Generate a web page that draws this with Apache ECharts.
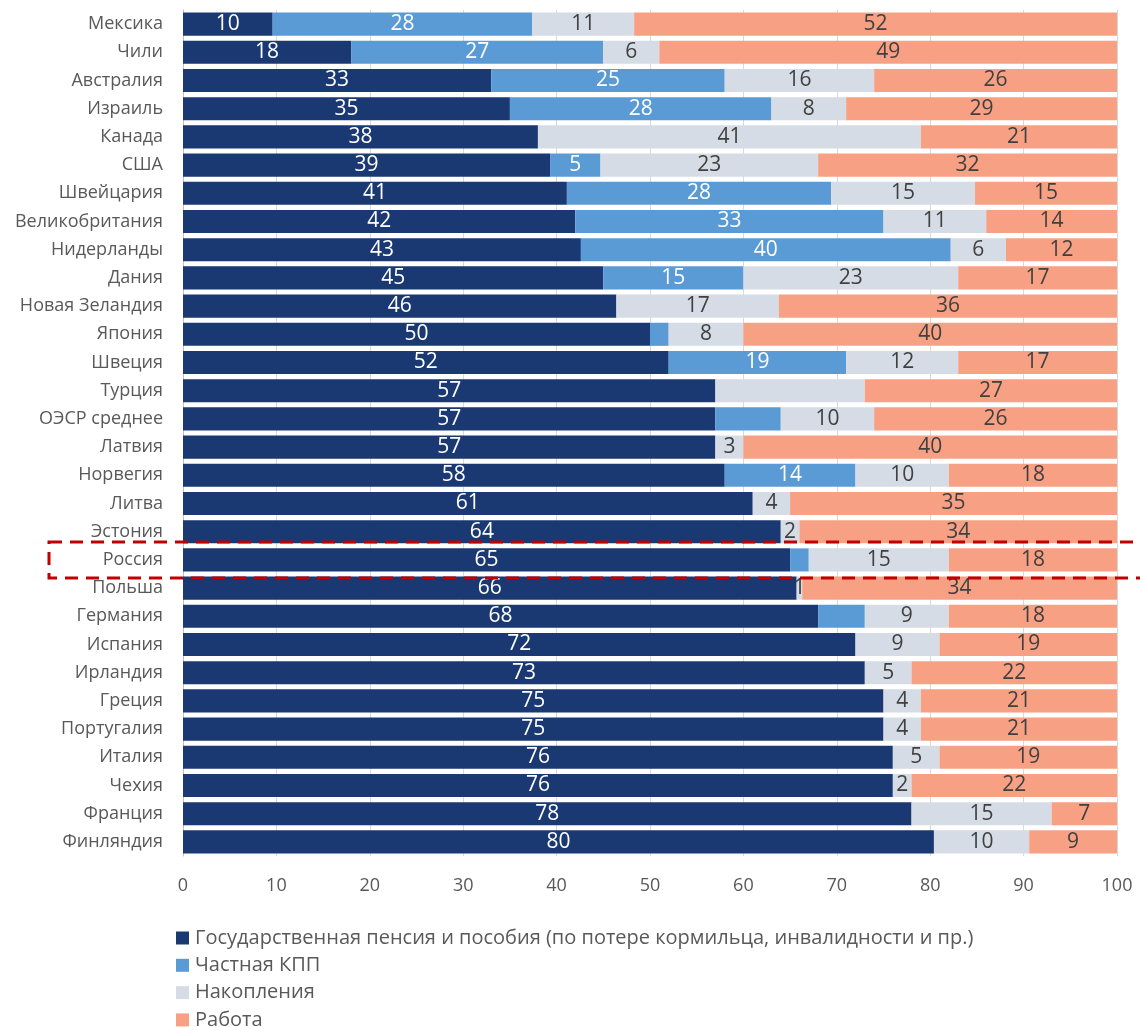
<!DOCTYPE html>
<html>
<head>
<meta charset="utf-8">
<script src="https://cdn.jsdelivr.net/npm/echarts@6/dist/echarts.min.js"></script>
<style>
  html, body { margin: 0; padding: 0; background: #fff; }
  #chart { width: 1140px; height: 1027px; }
</style>
</head>
<body>
<div id="chart"></div>
<script>
// structure of retirement income, %
var categories = ['Мексика', 'Чили', 'Австралия', 'Израиль', 'Канада', 'США', 'Швейцария',
    'Великобритания', 'Нидерланды', 'Дания', 'Новая Зеландия', 'Япония', 'Швеция', 'Турция',
    'ОЭСР среднее', 'Латвия', 'Норвегия', 'Литва', 'Эстония', 'Россия', 'Польша', 'Германия',
    'Испания', 'Ирландия', 'Греция', 'Португалия', 'Италия', 'Чехия', 'Франция', 'Финляндия'];

var statePension = [9.6, 18, 33, 35, 38, 39.3, 41.1, 42, 42.6, 45, 46.4, 50, 52, 57, 57, 57, 58, 61, 64, 65,
    65.7, 68, 72, 73, 75, 75, 76, 76, 78, 80.4];
var privatePension = [27.8, 27, 25, 28, 0, 5.4, 28.3, 33, 39.6, 15, 0, 2, 19, 0, 7, 0, 14, 0, 0, 2,
    0, 5, 0, 0, 0, 0, 0, 0, 0, 0];
var savings = [10.9, 6, 16, 8, 41, 23.3, 15.4, 11, 5.9, 23, 17.4, 8, 12, 16, 10, 3, 10, 4, 2, 15,
    0.6, 9, 9, 5, 4, 4, 5, 2, 15, 10.2];
var work = [51.7, 49, 26, 29, 21, 32, 15.2, 14, 11.9, 17, 36.2, 40, 17, 27, 26, 40, 18, 35, 34, 18,
    33.7, 18, 19, 22, 21, 21, 19, 22, 7, 9.4];

var xTicks = [0, 10, 20, 30, 40, 50, 60, 70, 80, 90, 100];

// segments that carry no value label in the original
var privateNoLabel = ['Япония', 'ОЭСР среднее', 'Россия', 'Германия'];
var savingsNoLabel = ['Турция'];

var seriesNames = ['Государственная пенсия и пособия (по потере кормильца, инвалидности и пр.)',
    'Частная КПП', 'Накопления', 'Работа'];
var colors = ['#1a3872', '#5b9bd5', '#d6dce5', '#f7a083'];

var FONT = '"Open Sans", "Noto Sans", sans-serif';

function labelFmt(hidden) {
    return function (p) {
        if (!p.value || hidden.indexOf(p.name) >= 0) return '';
        return Math.round(p.value);
    };
}

function makeSeries(i, data, textColor, hidden) {
    return {
        name: seriesNames[i],
        type: 'bar',
        stack: 'total',
        barCategoryGap: '18%',
        data: data,
        itemStyle: { color: colors[i] },
        label: {
            show: true,
            position: 'inside',
            color: textColor,
            fontFamily: FONT,
            fontSize: 21,
            formatter: labelFmt(hidden)
        }
    };
}

var myChart = echarts.init(document.getElementById('chart'));

var option = {
    animation: false,
    color: colors,
    grid: {
        left: 183,
        right: 23,
        top: 10,
        bottom: 171
    },
    xAxis: {
        type: 'value',
        min: xTicks[0],
        max: xTicks[xTicks.length - 1],
        interval: 10,
        axisLine: { show: false },
        axisTick: { show: false },
        splitLine: { lineStyle: { color: '#d9d9d9', width: 1 } },
        axisLabel: {
            color: '#595959',
            fontFamily: FONT,
            fontSize: 18,
            margin: 21
        }
    },
    yAxis: {
        type: 'category',
        inverse: true,
        data: categories,
        axisLine: { lineStyle: { color: '#bfbfbf' } },
        axisTick: { show: false },
        axisLabel: {
            color: '#595959',
            fontFamily: FONT,
            fontSize: 18,
            margin: 20
        }
    },
    legend: {
        orient: 'vertical',
        left: 176,
        top: 928,
        height: 110,
        itemWidth: 13,
        itemHeight: 13,
        itemGap: 7.3,
        padding: 0,
        icon: 'rect',
        textStyle: {
            color: '#595959',
            fontFamily: FONT,
            fontSize: 20,
            lineHeight: 19,
            padding: [0, 0, 0, 1]
        },
        data: seriesNames
    },
    series: [
        makeSeries(0, statePension, '#ffffff', []),
        makeSeries(1, privatePension, '#ffffff', privateNoLabel),
        makeSeries(2, savings, '#404040', savingsNoLabel),
        makeSeries(3, work, '#404040', [])
    ]
};

myChart.setOption(option);

// red dashed frame round Russia
var ruY = myChart.convertToPixel({ yAxisIndex: 0 }, 'Россия');
myChart.setOption({
    graphic: [{
        type: 'rect',
        shape: { x: 49, y: ruY - 18, width: 1120, height: 36 },
        style: {
            fill: 'none',
            stroke: '#c00000',
            lineWidth: 3,
            lineDash: [13, 8]
        },
        z: 100
    }]
});
</script>
</body>
</html>
